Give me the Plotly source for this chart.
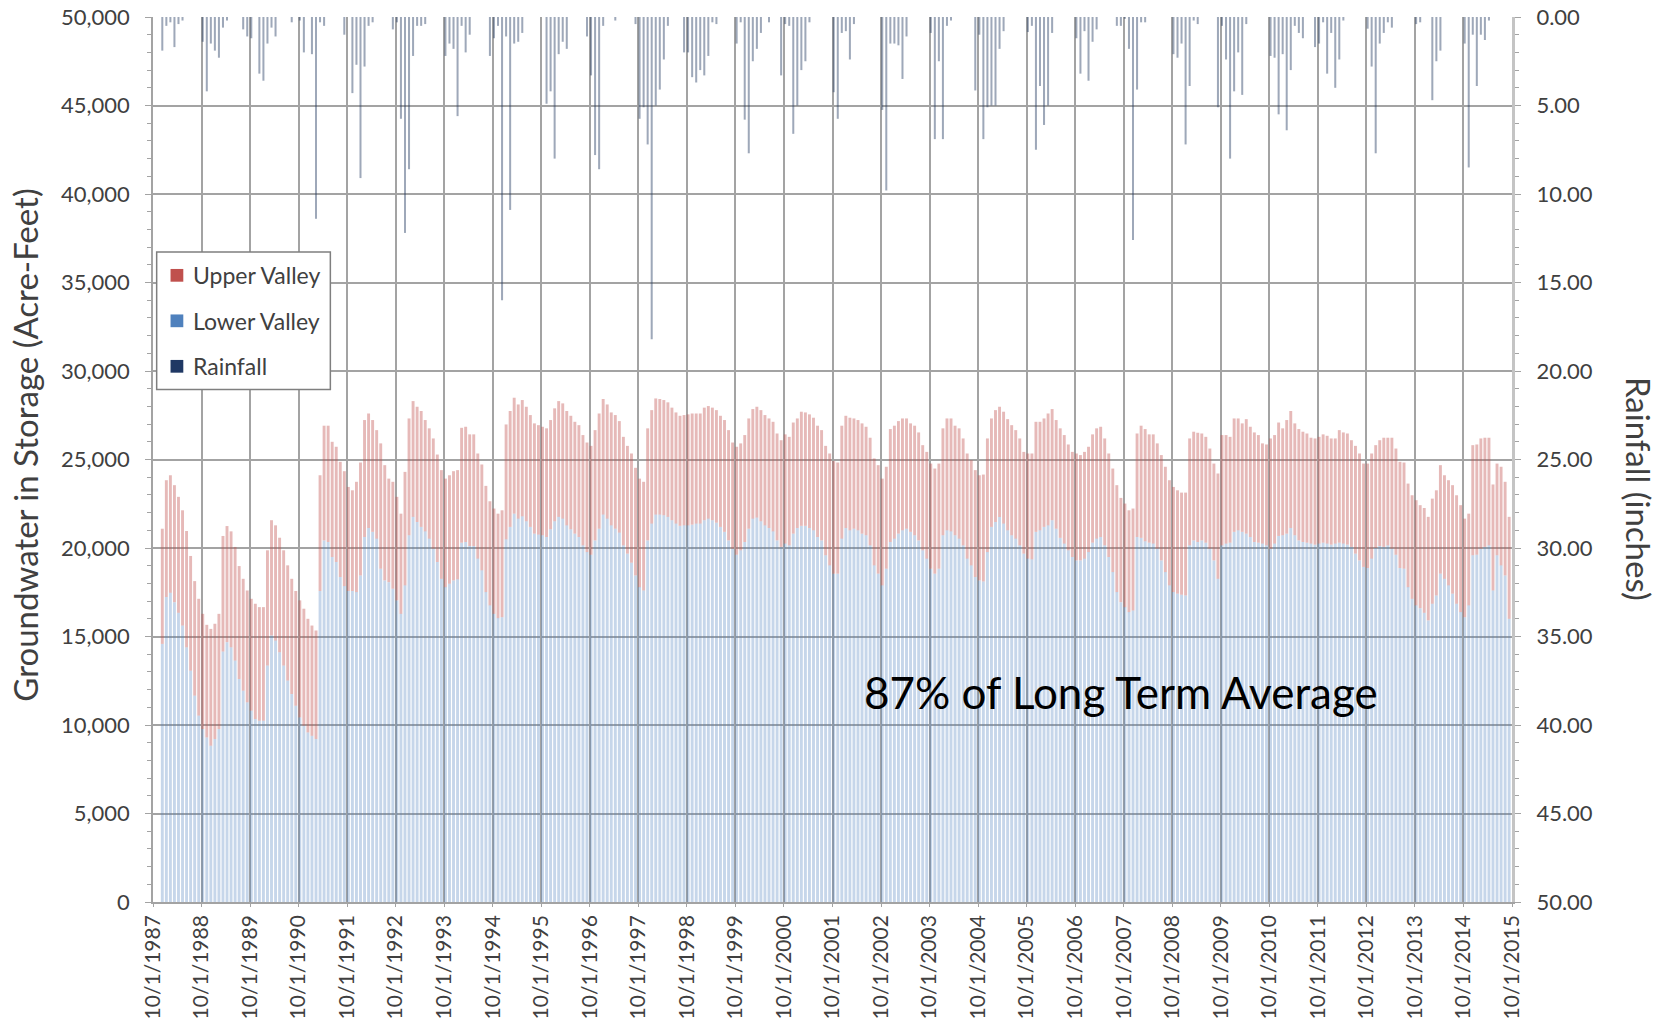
import pandas as pd
import plotly.graph_objects as go

# ---------------- data (monthly, Dec 1987 .. Sep 2015) ----------------
first_month = "1987-12"
last_month = "2015-09"
axis_origin = "1987-10"          # 10/1/1987 = left edge of the chart

# Lower Valley groundwater in storage (acre-feet), grouped by water year (Oct..Sep)
lower_valley = [
    14580, 17230, 17470, 16940, 16340, 15620, 14390, 13070, 11660, 10530,
    9770, 9300, 8830, 9210, 9770, 14150, 14680, 14390, 13640, 12600, 11940, 11280,
    10810, 10340, 10240, 10240, 13360, 15060, 14770, 14110, 13360, 12510, 11750, 11090,
    10430, 9960, 9580, 9390, 9210, 17570, 20430, 20340, 19490, 19210, 18360, 17850,
    17570, 17570, 17510, 18450, 20620, 21130, 20910, 20530, 18830, 18170, 18070, 17700,
    17040, 16280, 17890, 20720, 21760, 21470, 21190, 20940, 20530, 19960, 19210, 18260,
    17790, 17980, 18170, 18230, 20300, 20340, 20110, 20110, 19400, 18740, 17510, 16760,
    16280, 16040, 16090, 20490, 21190, 21940, 21660, 21790, 21510, 21190, 20810, 20760,
    20720, 20620, 21060, 21510, 21760, 21660, 21280, 21060, 20810, 20620, 20150, 19770,
    19620, 20430, 21090, 21890, 21660, 21280, 21090, 20870, 20150, 19680, 19170, 18450,
    17790, 17600, 20430, 21380, 21890, 21890, 21850, 21760, 21570, 21380, 21250, 21280,
    21280, 21320, 21380, 21380, 21570, 21660, 21570, 21430, 21190, 20910, 20430, 19960,
    19620, 19870, 20340, 21090, 21660, 21720, 21510, 21280, 21130, 20940, 20430, 20060,
    20250, 20150, 20810, 21130, 21250, 21250, 21130, 21000, 20620, 20430, 19590, 19020,
    18550, 18550, 20530, 21130, 21000, 21090, 21000, 20810, 20720, 20150, 19020, 18550,
    17890, 18830, 20340, 20530, 20810, 21000, 21090, 20910, 20720, 20430, 19870, 19400,
    18830, 18550, 18830, 20720, 21000, 20940, 20720, 20530, 20150, 19400, 19020, 18360,
    18170, 18110, 19770, 21190, 21470, 21750, 21380, 21000, 20720, 20530, 20150, 19680,
    19400, 19360, 20910, 21000, 21190, 21280, 21570, 21090, 20570, 20250, 19870, 19490,
    19300, 19300, 19400, 19770, 20300, 20530, 20620, 20150, 19490, 18640, 17510, 16940,
    16660, 16380, 16470, 20620, 20570, 20380, 20300, 20250, 19960, 19300, 18640, 17890,
    17510, 17420, 17360, 17320, 20150, 20430, 20340, 20430, 20300, 19960, 19300, 18260,
    20150, 20250, 20300, 20910, 21000, 20910, 20810, 20620, 20340, 20300, 20250, 20150,
    19960, 20250, 20680, 20720, 20810, 21130, 20720, 20430, 20340, 20300, 20250, 20190,
    20250, 20300, 20250, 20190, 20250, 20300, 20250, 20190, 20060, 19680, 19300, 18930,
    18870, 19400, 20000, 20110, 20060, 20150, 19960, 19620, 18870, 18830, 17790, 17130,
    16760, 16600, 16340, 15910, 16850, 17320, 18550, 18260, 17890, 17420, 16850, 16380,
    16090, 16760, 19590, 19620, 19960, 20060, 20150, 17600, 19590, 19020, 18450, 16000,
]

# Upper Valley groundwater in storage (acre-feet), stacked on top of Lower Valley
upper_valley = [
    6510, 6600, 6640, 6610, 6550, 6510, 6570, 6480, 6470, 6600,
    6510, 6360, 6600, 6510, 6510, 6530, 6560, 6550, 6420, 6380, 6320, 6320,
    6320, 6510, 6420, 6420, 6510, 6510, 6510, 6470, 6510, 6510, 6510, 6480,
    6610, 6610, 6420, 6230, 6130, 6540, 6480, 6570, 6510, 6510, 6510, 6490,
    5880, 5690, 6230, 6380, 6610, 6470, 6320, 6130, 7080, 6510, 5850, 6040,
    5850, 5660, 6410, 6600, 6540, 6510, 6550, 6290, 6230, 6230, 6070, 6140,
    6130, 6130, 6170, 6170, 6490, 6510, 6310, 6310, 5940, 5980, 6000, 5880,
    5950, 5900, 6040, 6490, 6550, 6550, 6450, 6570, 6470, 6320, 6230, 6180,
    6130, 6140, 6170, 6380, 6540, 6510, 6460, 6410, 6320, 6320, 6230, 6190,
    6150, 6230, 6510, 6530, 6450, 6380, 6420, 6300, 6130, 6090, 6170, 6080,
    6130, 6140, 6330, 6410, 6560, 6530, 6510, 6470, 6360, 6280, 6220, 6230,
    6270, 6280, 6220, 6220, 6360, 6360, 6360, 6360, 6280, 6320, 6230, 6000,
    6100, 6040, 6040, 6230, 6190, 6260, 6280, 6230, 6190, 6190, 6040, 6030,
    6170, 6130, 6280, 6190, 6450, 6410, 6420, 6360, 6290, 6230, 6180, 6320,
    6360, 6280, 6380, 6340, 6360, 6230, 6230, 6230, 6130, 6080, 6040, 6130,
    6030, 5760, 6380, 6380, 6360, 6320, 6230, 6130, 6190, 6100, 5940, 6030,
    5940, 5940, 5940, 6040, 6320, 6380, 6190, 6230, 6040, 5940, 5940, 6040,
    5940, 6040, 6420, 6130, 6320, 6230, 6320, 6280, 6220, 6130, 6040, 5750,
    5940, 5980, 6220, 6130, 6130, 6320, 6280, 6140, 6190, 6130, 5980, 5940,
    6040, 5950, 6030, 5950, 6120, 6230, 6230, 6040, 5850, 5850, 6040, 5890,
    5850, 5750, 5760, 5850, 6340, 6340, 6120, 6170, 5950, 5950, 5950, 5940,
    5940, 5840, 5770, 5810, 6040, 6140, 6170, 6040, 5980, 5660, 5470, 5950,
    6230, 6130, 5980, 6410, 6320, 6130, 6470, 6230, 6190, 6080, 5660, 5700,
    6230, 6130, 6410, 6040, 6420, 6610, 6320, 6290, 6230, 6170, 5980, 6000,
    6030, 6120, 6090, 6000, 5940, 6360, 6280, 6280, 6030, 6090, 6040, 5840,
    5900, 5940, 5810, 5980, 6170, 6080, 6270, 6000, 6000, 6000, 5850, 5850,
    5940, 5820, 5920, 5850, 5940, 5940, 6130, 5850, 5940, 6130, 6130, 6040,
    5570, 5180, 6220, 6230, 6230, 6170, 6080, 5990, 5180, 5570, 5290, 5760,
]

# Monthly rainfall (inches)
rainfall = [
    1.9, 0.5, 0.3, 1.7, 0.4, 0.2, 0, 0, 0, 0,
    1.4, 4.2, 1.5, 1.9, 2.3, 0.6, 0.2, 0, 0, 0, 0.7, 1.1,
    1.2, 0, 3.2, 3.6, 1.5, 0.6, 1.1, 0, 0, 0, 0.3, 0,
    0.2, 2.0, 0, 2.1, 11.4, 0.3, 0.5, 0, 0, 0, 0, 1.0,
    0, 4.3, 2.7, 9.1, 2.8, 0.5, 0.3, 0, 0, 0, 0, 0.7,
    0.3, 5.75, 12.2, 8.6, 2.2, 0.5, 0.5, 0.4, 0, 0, 0, 0,
    2.2, 1.5, 1.8, 5.6, 0.5, 2.0, 1.0, 0, 0, 0, 0, 2.2,
    1.2, 0.5, 16.0, 1.1, 10.9, 1.5, 1.4, 0.9, 0, 0, 0, 0,
    0, 4.9, 4.2, 8.0, 2.1, 1.4, 1.8, 0, 0, 0, 0, 1.1,
    3.3, 7.8, 8.6, 0.5, 0, 0, 0.2, 0, 0, 0, 0, 0.4,
    5.75, 5.1, 7.2, 18.2, 5.0, 4.1, 2.4, 0.5, 0, 0, 0, 2.0,
    2.0, 3.4, 3.7, 3.0, 3.3, 2.2, 0.3, 0.4, 0, 0, 0, 0,
    1.5, 0.3, 5.8, 7.7, 2.5, 1.8, 0.9, 0, 0.3, 0, 0, 3.3,
    0.4, 0.5, 6.6, 5.0, 3.0, 2.5, 0.3, 0, 0, 0, 0, 0,
    4.25, 5.75, 0.9, 0.8, 2.4, 0.4, 0, 0, 0, 0, 0, 0,
    5.25, 9.8, 1.5, 1.5, 1.6, 3.5, 1.1, 0, 0, 0, 0, 0,
    0.9, 6.9, 2.5, 6.9, 0.5, 0.2, 0, 0, 0, 0, 0, 4.15,
    1.0, 6.9, 5.1, 5.0, 5.0, 1.8, 0.8, 0, 0, 0, 0, 0,
    0.85, 0.5, 7.5, 3.9, 6.1, 5.0, 0.9, 0, 0, 0, 0, 0,
    1.2, 3.2, 0.8, 3.6, 1.4, 0.7, 0, 0, 0, 0, 0.5, 0.5,
    0.1, 1.8, 12.6, 4.1, 0.3, 0.3, 0, 0, 0, 0, 0, 0,
    2.1, 2.3, 1.5, 7.2, 3.9, 0.2, 0.4, 0, 0, 0, 0, 5.1,
    0.5, 2.4, 8.0, 4.2, 2.0, 4.4, 0.4, 0, 0, 0, 0, 0,
    2.2, 2.3, 5.5, 2.1, 6.4, 3.0, 0.5, 0.9, 1.2, 0, 0, 1.7,
    1.5, 0.3, 3.2, 0.9, 4.0, 2.4, 0.2, 0, 0, 0, 0, 0,
    0.66, 2.8, 7.7, 1.5, 0.9, 0.3, 0.6, 0, 0, 0, 0, 0,
    0.4, 0.3, 0, 0, 4.7, 2.5, 1.9, 0, 0, 0, 0, 0,
    1.5, 8.5, 1.0, 3.9, 1.0, 1.3, 0.2, 0, 0, 0, 0, 0,
]

tick_years = list(range(1987, 2016))
tick_labels = [f"10/1/{y}" for y in tick_years]
series_names = ["Upper Valley", "Lower Valley", "Rainfall"]
legend_colors = ["#c0504d", "#4f81bd", "#1f3864"]
note_text = "87% of Long Term Average"

# ---------------- positions on a month axis (0 = 10/1/1987) ----------------
months = pd.period_range(first_month, last_month, freq="M")
origin = pd.Period(axis_origin, freq="M")
x_month = [(m - origin).n + 0.3 for m in months]
tick_vals = [(pd.Period(f"{y}-10", freq="M") - origin).n for y in tick_years]

GRID = "#a3a3a3"
TXT = "#404040"
FONT = "Lato"

fig = go.Figure()
fig.add_bar(x=x_month, y=lower_valley, width=0.72, name="Lower Valley",
            marker=dict(color="rgba(79,129,189,0.32)", line=dict(width=0)),
            showlegend=False)
fig.add_bar(x=x_month, y=upper_valley, base=lower_valley, width=0.72, name="Upper Valley",
            marker=dict(color="rgba(192,80,77,0.40)", line=dict(width=0)),
            showlegend=False)
fig.add_bar(x=x_month, y=rainfall, yaxis="y2", width=0.5, name="Rainfall",
            marker=dict(color="rgba(40,62,100,0.45)", line=dict(width=0)),
            showlegend=False)

# ---------------- legend box (drawn in plot-area paper coordinates) ----------------
legend_box = dict(x0=0.0027, x1=0.1305, y0=0.5790, y1=0.7345)
legend_rows = [0.7081, 0.6567, 0.6053]
sq_x0, sq_x1, sq_h = 0.0129, 0.0223, 0.0144
text_x = 0.0280

shapes = [dict(type="rect", xref="paper", yref="paper", layer="above",
               fillcolor="white", line=dict(color="#7f7f7f", width=1.5), **legend_box)]
annotations = []
for nm, col, yc in zip(series_names, legend_colors, legend_rows):
    shapes.append(dict(type="rect", xref="paper", yref="paper", layer="above",
                       x0=sq_x0, x1=sq_x1, y0=yc - sq_h / 2, y1=yc + sq_h / 2,
                       fillcolor=col, line=dict(width=0)))
    annotations.append(dict(text=nm, xref="paper", yref="paper", x=text_x, y=yc,
                            xanchor="left", yanchor="middle", showarrow=False,
                            font=dict(size=23, color=TXT)))

annotations += [
    dict(text="Groundwater in Storage (Acre-Feet)", xref="paper", yref="paper",
         x=-0.0942, y=0.5167, textangle=-90, showarrow=False,
         xanchor="center", yanchor="middle", font=dict(size=33, color=TXT)),
    dict(text="Rainfall (inches)", xref="paper", yref="paper",
         x=1.0935, y=0.4667, textangle=90, showarrow=False,
         xanchor="center", yanchor="middle", font=dict(size=33, color=TXT)),
    dict(text=note_text, xref="x", yref="y", x=239.4, y=11850, showarrow=False,
         xanchor="center", yanchor="middle", font=dict(size=44, color="black")),
]

fig.update_layout(
    width=1660, height=1029,
    margin=dict(l=153, r=148, t=17, b=127, autoexpand=False),
    paper_bgcolor="white", plot_bgcolor="white",
    barmode="overlay", showlegend=False,
    font=dict(family=FONT, color=TXT),
    xaxis=dict(range=[0, 336], tickmode="array", tickvals=tick_vals, ticktext=tick_labels,
               tickangle=-90, tickfont=dict(size=21, color=TXT), automargin=False,
               showgrid=True, gridcolor=GRID, gridwidth=1.5,
               showline=True, linecolor=GRID, linewidth=1.5,
               ticks="outside", ticklen=3, tickcolor=GRID, zeroline=False),
    yaxis=dict(range=[0, 50000], dtick=5000, tickformat=",d", automargin=False,
               tickfont=dict(size=22, color=TXT), ticklabelstandoff=11,
               showgrid=True, gridcolor=GRID, gridwidth=1.5,
               showline=True, linecolor=GRID, linewidth=1.5,
               ticks="outside", ticklen=6, tickcolor=GRID, zeroline=False,
               minor=dict(dtick=1000, ticks="outside", ticklen=4, tickcolor=GRID, showgrid=False)),
    yaxis2=dict(overlaying="y", side="right", range=[50, 0], dtick=5, tickformat=".2f",
                automargin=False, tickfont=dict(size=22, color=TXT), ticklabelstandoff=11,
                showgrid=False, zeroline=False,
                showline=True, linecolor="#c4c4c4", linewidth=3,
                ticks="outside", ticklen=6, tickcolor=GRID,
                minor=dict(dtick=1, ticks="outside", ticklen=4, tickcolor=GRID)),
    shapes=shapes,
    annotations=annotations,
)

fig.write_html("out.html", config={"displayModeBar": False},
               post_script="document.body.style.margin='0';")
